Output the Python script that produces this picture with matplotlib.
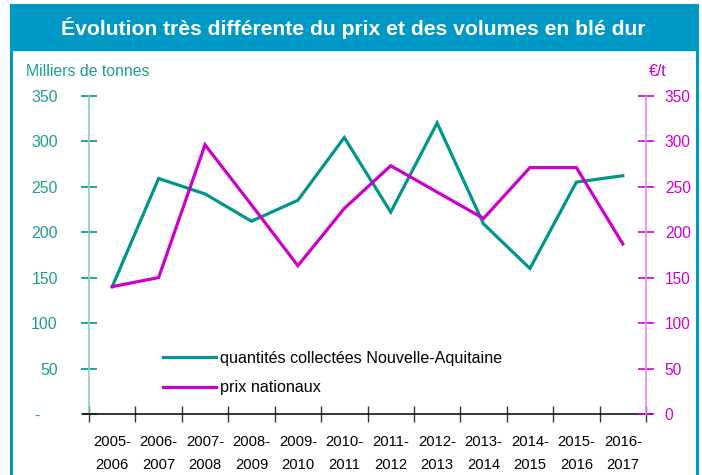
import matplotlib.pyplot as plt
import numpy as np
from matplotlib.patches import Rectangle

plt.rcParams["font.family"] = ["Liberation Sans", "DejaVu Sans"]

campagnes = ["2005-\n2006", "2006-\n2007", "2007-\n2008", "2008-\n2009",
             "2009-\n2010", "2010-\n2011", "2011-\n2012", "2012-\n2013",
             "2013-\n2014", "2014-\n2015", "2015-\n2016", "2016-\n2017"]
volumes = [140, 259, 242, 212, 235, 304, 222, 320, 209, 160, 255, 262]
prix = [140, 150, 296, 230, 163, 226, 273, 244, 215, 271, 271, 187]
y_ticks = [0, 50, 100, 150, 200, 250, 300, 350]
left_labels = ["-    ", "50", "100", "150", "200", "250", "300", "350"]
right_labels = ["0", "50", "100", "150", "200", "250", "300", "350"]

TEAL = "#00968a"
TEAL_TXT = "#1f9e8e"
TEAL_AX = "#86d0c6"
MAG = "#cc00cc"
MAG_AX = "#e88ae8"
BLUE = "#0099c6"

fig = plt.figure(figsize=(7.02, 4.75), dpi=100)
W, H = 702, 475

# frame and title banner
fig.patches.append(Rectangle((11 / W, -0.02), (697 - 11) / W, 1.02 - 5 / H,
                             transform=fig.transFigure, fill=False,
                             edgecolor=BLUE, linewidth=2.2))
fig.patches.append(Rectangle((11 / W, 1 - 50 / H), (697 - 11) / W, 45 / H,
                             transform=fig.transFigure, facecolor=BLUE,
                             edgecolor=BLUE, linewidth=1))
fig.text(353 / W, 1 - 28 / H, "Évolution très différente du prix et des volumes en blé dur",
         color="white", fontsize=15.2, fontweight="bold", ha="center", va="center")
fig.text(26 / W, 1 - 72 / H, "Milliers de tonnes", color=TEAL_TXT, fontsize=11.4,
         ha="left", va="center")
fig.text(649 / W, 1 - 72 / H, "€/t", color=MAG, fontsize=11.4, ha="left", va="center")

ax = fig.add_axes([89 / W, 1 - 414 / H, (646 - 89) / W, (414 - 95.7) / H])
ax2 = ax.twinx()

x = np.arange(len(campagnes))
l1, = ax.plot(x, volumes, color=TEAL, lw=2.3, solid_joinstyle="miter")
l2, = ax2.plot(x, prix, color=MAG, lw=2.3, solid_joinstyle="miter")

for a in (ax, ax2):
    a.set_ylim(0, 350)
    a.set_xlim(-0.5, len(campagnes) - 0.5)
    a.spines["top"].set_visible(False)
    a.spines["bottom"].set_visible(False)
    a.set_facecolor("none")

ax.spines["right"].set_visible(False)
ax.spines["left"].set_color(TEAL_AX)
ax.spines["left"].set_linewidth(1.2)
ax2.spines["left"].set_visible(False)
ax2.spines["right"].set_color(MAG_AX)
ax2.spines["right"].set_linewidth(1.2)

ax.set_yticks(y_ticks)
ax.set_yticklabels(left_labels)
ax.tick_params(axis="y", direction="inout", length=11, width=1.2, color=TEAL,
               labelcolor=TEAL_TXT, labelsize=11.4, pad=17)
ax2.set_yticks(y_ticks)
ax2.set_yticklabels(right_labels)
ax2.tick_params(axis="y", direction="inout", length=11, width=1.2, color=MAG,
                labelcolor=MAG, labelsize=11.2, pad=8)

# x axis: labels centred, ticks on category boundaries
ax.set_xticks(x)
ax.set_xticklabels(campagnes, linespacing=1.8)
ax.tick_params(axis="x", which="major", length=0, labelsize=10.6, pad=15)
ax.set_xticks(np.arange(len(campagnes) + 1) - 0.5, minor=True)
ax.tick_params(axis="x", which="minor", direction="inout", length=11, width=1.0,
               color="#333333")
ax.plot([-0.011, 1.011], [0, 0], transform=ax.transAxes, color="black", lw=1.1,
        clip_on=False, zorder=5)

leg = ax.legend([l1, l2], ["quantités collectées Nouvelle-Aquitaine", "prix nationaux"],
                loc="center left", bbox_to_anchor=(163 / W, 1 - 373 / H),
                bbox_transform=fig.transFigure, frameon=False, fontsize=11.6,
                handlelength=3.3, handletextpad=0.25, labelspacing=0.9,
                borderpad=0, borderaxespad=0)

fig.savefig("out.png", dpi=100)
